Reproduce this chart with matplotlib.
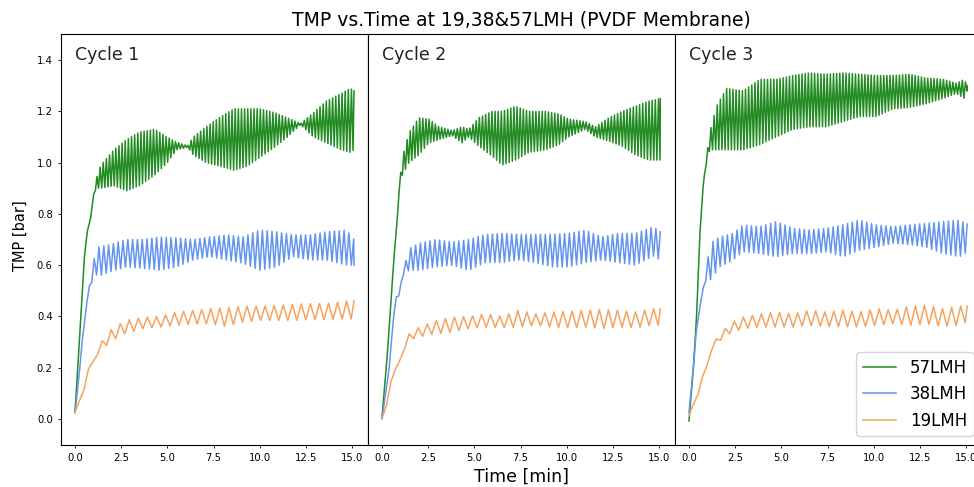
import numpy as np
import matplotlib
matplotlib.use('Agg')
import matplotlib.pyplot as plt

# Envelope of each TMP trace: knot times [min],
# upper (peak) and lower (trough) TMP [bar]. Where hi == lo the trace is smooth.

# Cycle 1
c1_57_t = [0.0, 0.12, 0.3, 0.48, 0.66, 0.84, 1.02, 1.2, 1.4, 2.1, 2.8, 3.5, 4.3, 5.0, 5.5, 6.1, 6.4, 7.1,
           7.9, 8.6, 9.3, 10.0, 10.8, 11.5, 12.2, 12.9, 13.6, 14.4, 14.9, 15.1]
c1_57_hi = [0.025, 0.16, 0.38, 0.61, 0.73, 0.78, 0.88, 0.95, 0.99, 1.05, 1.09, 1.12, 1.13, 1.10, 1.08, 1.065,
            1.10, 1.14, 1.18, 1.21, 1.21, 1.21, 1.195, 1.175, 1.152, 1.195, 1.24, 1.27, 1.29, 1.28]
c1_57_lo = [0.025, 0.16, 0.38, 0.61, 0.73, 0.78, 0.88, 0.90, 0.90, 0.91, 0.89, 0.91, 0.95, 1.00, 1.05, 1.06,
            1.03, 1.00, 0.985, 0.97, 0.985, 1.02, 1.06, 1.10, 1.148, 1.10, 1.077, 1.05, 1.04, 1.05]

c1_38_t = [0.0, 0.2, 0.4, 0.57, 0.75, 0.93, 1.02, 1.2, 1.9, 2.8, 3.7, 4.6, 5.5, 6.4, 7.3, 8.2, 9.1, 10.0,
           10.9, 11.8, 12.7, 13.6, 14.7, 15.1]
c1_38_hi = [0.025, 0.15, 0.31, 0.41, 0.515, 0.535, 0.62, 0.67, 0.68, 0.70, 0.70, 0.71, 0.706, 0.70, 0.71,
            0.718, 0.71, 0.737, 0.73, 0.718, 0.718, 0.73, 0.737, 0.70]
c1_38_lo = [0.025, 0.15, 0.31, 0.41, 0.515, 0.535, 0.60, 0.554, 0.574, 0.593, 0.587, 0.58, 0.593, 0.62,
            0.633, 0.62, 0.607, 0.58, 0.593, 0.633, 0.62, 0.62, 0.60, 0.60]

c1_19_t = [0.0, 0.2, 0.48, 0.66, 0.93, 1.2, 1.9, 2.7, 3.7, 4.6, 5.5, 6.4, 7.3, 8.2, 9.1, 10.0, 10.9, 11.8,
           12.7, 13.6, 14.7, 15.1]
c1_19_hi = [0.025, 0.064, 0.11, 0.19, 0.21, 0.28, 0.345, 0.384, 0.397, 0.40, 0.417, 0.424, 0.43, 0.434,
            0.44, 0.44, 0.443, 0.447, 0.45, 0.45, 0.46, 0.46]
c1_19_lo = [0.025, 0.064, 0.11, 0.19, 0.21, 0.25, 0.30, 0.332, 0.352, 0.358, 0.365, 0.37, 0.371, 0.36,
            0.378, 0.384, 0.384, 0.384, 0.387, 0.387, 0.39, 0.39]

# Cycle 2
c2_57_t = [0.0, 0.29, 0.47, 0.65, 0.83, 0.92, 1.1, 1.46, 2.0, 2.54, 3.08, 3.8, 4.34, 4.7, 5.24, 5.96, 6.5,
           7.23, 7.95, 8.85, 9.57, 10.1, 11.0, 11.55, 12.27, 12.99, 13.71, 14.43, 15.06]
c2_57_hi = [0.005, 0.25, 0.44, 0.63, 0.78, 0.89, 1.02, 1.117, 1.175, 1.17, 1.14, 1.125, 1.14, 1.13, 1.175,
            1.2, 1.2, 1.22, 1.2, 1.2, 1.19, 1.17, 1.16, 1.14, 1.175, 1.2, 1.22, 1.24, 1.25]
c2_57_lo = [0.005, 0.25, 0.44, 0.63, 0.78, 0.89, 0.95, 1.0, 1.03, 1.077, 1.09, 1.105, 1.077, 1.10, 1.064,
            1.025, 0.99, 1.01, 1.04, 1.05, 1.07, 1.10, 1.13, 1.10, 1.084, 1.064, 1.03, 1.01, 1.01]

c2_38_t = [0.0, 0.38, 0.56, 0.74, 0.92, 1.1, 1.46, 2.0, 2.9, 3.8, 4.7, 5.6, 6.5, 7.4, 8.3, 9.2, 10.1, 11.0,
           11.9, 12.8, 13.7, 14.7, 15.06]
c2_38_hi = [0.0, 0.19, 0.345, 0.475, 0.48, 0.56, 0.665, 0.685, 0.70, 0.69, 0.70, 0.72, 0.724, 0.72, 0.72,
            0.72, 0.724, 0.737, 0.71, 0.724, 0.724, 0.75, 0.73]
c2_38_lo = [0.0, 0.19, 0.345, 0.475, 0.48, 0.56, 0.58, 0.58, 0.593, 0.60, 0.58, 0.61, 0.61, 0.62, 0.61,
            0.593, 0.593, 0.61, 0.62, 0.61, 0.60, 0.635, 0.62]

c2_19_t = [0.0, 0.29, 0.56, 0.74, 0.92, 1.1, 1.55, 2.03, 2.9, 3.8, 4.7, 5.6, 6.5, 7.4, 8.3, 9.2, 10.1, 11.0,
           11.9, 12.8, 13.7, 14.6, 15.06]
c2_19_hi = [0.0, 0.064, 0.175, 0.195, 0.2, 0.293, 0.34, 0.358, 0.384, 0.397, 0.40, 0.41, 0.40, 0.424, 0.41,
            0.417, 0.42, 0.424, 0.427, 0.424, 0.417, 0.43, 0.43]
c2_19_lo = [0.0, 0.064, 0.175, 0.195, 0.2, 0.26, 0.31, 0.32, 0.332, 0.338, 0.352, 0.358, 0.355, 0.358,
            0.365, 0.358, 0.355, 0.358, 0.352, 0.358, 0.355, 0.365, 0.365]

# Cycle 3
c3_57_t = [0.0, 0.23, 0.4, 0.5, 0.59, 0.77, 0.95, 1.13, 1.49, 2.03, 2.93, 3.83, 4.73, 5.63, 6.53, 7.43,
           8.33, 9.23, 10.14, 11.04, 11.94, 12.84, 13.74, 14.46, 14.9, 15.05]
c3_57_hi = [-0.008, 0.19, 0.38, 0.55, 0.72, 0.91, 1.02, 1.12, 1.22, 1.29, 1.28, 1.325, 1.325, 1.34, 1.35,
            1.345, 1.35, 1.345, 1.34, 1.34, 1.345, 1.33, 1.325, 1.31, 1.325, 1.30]
c3_57_lo = [-0.008, 0.19, 0.38, 0.55, 0.72, 0.91, 1.0, 1.05, 1.05, 1.05, 1.05, 1.07, 1.10, 1.13, 1.14,
            1.14, 1.16, 1.18, 1.18, 1.21, 1.215, 1.23, 1.25, 1.27, 1.25, 1.28]

c3_38_t = [0.0, 0.23, 0.4, 0.68, 0.95, 1.13, 1.67, 2.39, 2.93, 3.83, 4.73, 5.63, 6.53, 7.43, 8.33, 9.23,
           10.14, 11.04, 11.94, 12.84, 13.74, 14.64, 15.05]
c3_38_hi = [0.025, 0.19, 0.345, 0.475, 0.58, 0.685, 0.71, 0.724, 0.757, 0.75, 0.77, 0.744, 0.737, 0.744,
            0.757, 0.776, 0.757, 0.75, 0.757, 0.763, 0.77, 0.776, 0.76]
c3_38_lo = [0.025, 0.19, 0.345, 0.475, 0.55, 0.54, 0.593, 0.62, 0.652, 0.645, 0.633, 0.645, 0.645, 0.652,
            0.633, 0.658, 0.67, 0.685, 0.68, 0.67, 0.645, 0.633, 0.65]

c3_19_t = [0.0, 0.31, 0.5, 0.77, 0.95, 1.13, 1.31, 1.76, 2.12, 2.93, 3.83, 4.73, 5.63, 6.53, 7.43, 8.33,
           9.23, 10.14, 11.04, 11.94, 12.84, 13.74, 14.64, 15.05]
c3_19_hi = [0.012, 0.07, 0.097, 0.175, 0.2, 0.254, 0.30, 0.332, 0.37, 0.397, 0.41, 0.417, 0.41, 0.424,
            0.417, 0.424, 0.417, 0.43, 0.424, 0.44, 0.443, 0.43, 0.44, 0.44]
c3_19_lo = [0.012, 0.07, 0.097, 0.175, 0.2, 0.254, 0.28, 0.31, 0.33, 0.352, 0.358, 0.358, 0.358, 0.365,
            0.36, 0.36, 0.358, 0.365, 0.371, 0.365, 0.37, 0.36, 0.365, 0.378]

# oscillation period of each flux [min]
period = {'57LMH': 0.17, '38LMH': 0.26, '19LMH': 0.49}
colors = {'57LMH': 'forestgreen', '38LMH': 'cornflowerblue', '19LMH': 'sandybrown'}
cycles = ['Cycle 1', 'Cycle 2', 'Cycle 3']

runs = [
    {'57LMH': (c1_57_t, c1_57_hi, c1_57_lo), '38LMH': (c1_38_t, c1_38_hi, c1_38_lo),
     '19LMH': (c1_19_t, c1_19_hi, c1_19_lo)},
    {'57LMH': (c2_57_t, c2_57_hi, c2_57_lo), '38LMH': (c2_38_t, c2_38_hi, c2_38_lo),
     '19LMH': (c2_19_t, c2_19_hi, c2_19_lo)},
    {'57LMH': (c3_57_t, c3_57_hi, c3_57_lo), '38LMH': (c3_38_t, c3_38_hi, c3_38_lo),
     '19LMH': (c3_19_t, c3_19_hi, c3_19_lo)},
]


def trace(t, hi, lo, per):
    # alternate between peak and trough envelope every half period
    tt = np.arange(0, t[-1] + 1e-9, per / 2)
    if tt[-1] < t[-1]:
        tt = np.append(tt, t[-1])
    top = np.interp(tt, t, hi)
    bot = np.interp(tt, t, lo)
    y = np.where(np.arange(len(tt)) % 2 == 0, top, bot)
    return tt, y


fig = plt.figure(figsize=(9.74, 4.87), dpi=100)
left = 61 / 974
w = 307 / 974
bottom = (487 - 444.5) / 487
h = 410 / 487

axes = []
for n in range(3):
    ax = fig.add_axes([left + n * w, bottom, w, h])
    for name in ['57LMH', '38LMH', '19LMH']:
        t, hi, lo = runs[n][name]
        x, y = trace(t, hi, lo, period[name])
        ax.plot(x, y, color=colors[name], lw=1.1, label=name)
    ax.set_xlim(-0.755, 15.855)
    ax.set_ylim(-0.1, 1.5)
    ax.set_xticks([0, 2.5, 5, 7.5, 10, 12.5, 15])
    ax.tick_params(labelsize=7.2, length=2.5, width=0.6)
    ax.text(0.046, 0.95, cycles[n], transform=ax.transAxes, fontsize=12.5,
            ha='left', va='center', color='#222222')
    if n == 0:
        ax.set_yticks(np.arange(0, 1.41, 0.2))
    else:
        ax.set_yticks([])
    for s in ax.spines.values():
        s.set_linewidth(0.8)
    axes.append(ax)

axes[2].legend(loc='lower right', fontsize=12, handlelength=2.0)
fig.text(0.535, 1 - 20 / 487, 'TMP vs.Time at 19,38&57LMH (PVDF Membrane)', ha='center', va='center',
         fontsize=13.5)
fig.text(0.535, 1 - 477 / 487, 'Time [min]', ha='center', va='center', fontsize=12.5)
fig.text(20 / 974, 1 - 236 / 487, 'TMP [bar]', ha='center', va='center', rotation=90, fontsize=10.5)

fig.savefig('out.png', dpi=100)
